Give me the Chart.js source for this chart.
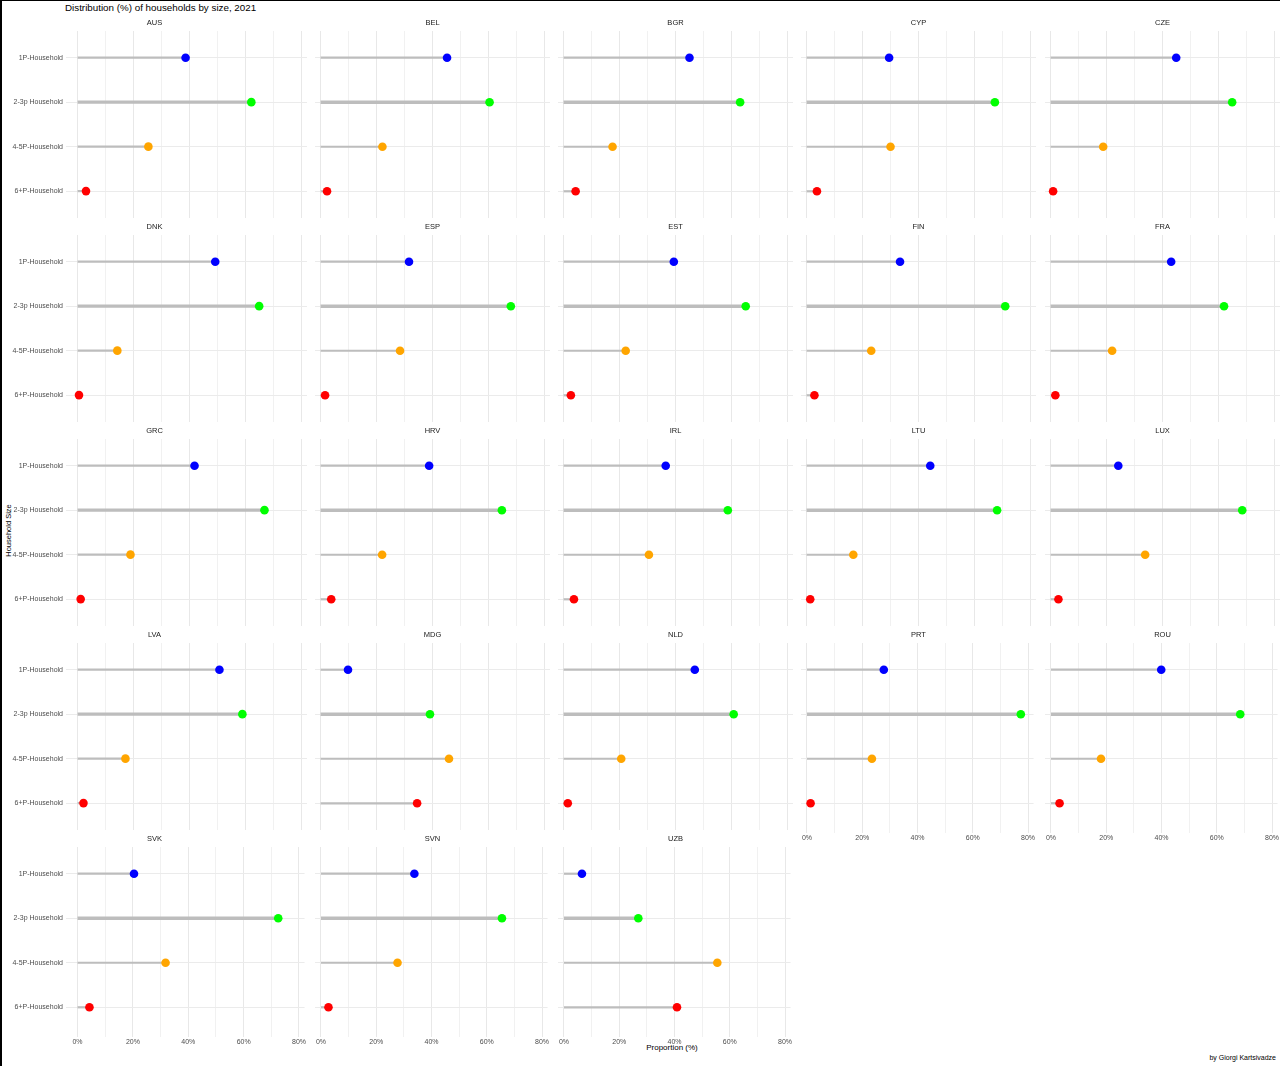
<!DOCTYPE html>
<html>
<head>
<meta charset="utf-8">
<script src="https://cdn.jsdelivr.net/npm/chart.js@4/dist/chart.umd.min.js"></script>
<style>
  html, body { margin: 0; padding: 0; background: #fff; }
  #wrap { position: relative; width: 1280px; height: 1066px; overflow: hidden; background: #fff;
          border-top: 1px solid #000; border-left: 2px solid #000; box-sizing: border-box; }
  .txt { position: absolute; font-family: "Liberation Sans", Arial, sans-serif; white-space: nowrap; }
  canvas { position: absolute; }
</style>
</head>
<body>
<div id="wrap">
  <div class="txt" style="left:63px;top:1px;font-size:9.8px;color:#000;">Distribution (%) of households by size, 2021</div>
  <div class="txt" style="left:-34px;top:525px;font-size:7.5px;color:#000;transform:rotate(-90deg);width:80px;text-align:center;">Household Size</div>
  <div class="txt" style="left:620px;top:1042px;font-size:8px;color:#000;width:100px;text-align:center;">Proportion (%)</div>
  <div class="txt" style="right:4px;top:1053px;font-size:7px;color:#000;">by Giorgi Kartsivadze</div>
</div>
<script>
// ---- data ----
const countries = ["AUS","BEL","BGR","CYP","CZE","DNK","ESP","EST","FIN","FRA",
                   "GRC","HRV","IRL","LTU","LUX","LVA","MDG","NLD","PRT","ROU",
                   "SVK","SVN","UZB"];
const categories = ["1P-Household","2-3p Household","4-5P-Household","6+P-Household"];
const onePerson  = [38.6,45.2,45.0,29.5,44.9, 49.2,31.6,39.4,33.4,43.1, 41.8,38.8,36.5,44.2,24.2, 50.7,9.8,46.9,27.8,39.9, 20.4,33.8,6.5];
const twoThree   = [62.1,60.4,63.1,67.3,64.9, 64.9,68.0,65.1,71.0,62.0, 66.8,64.8,58.7,68.1,68.5, 58.9,39.1,60.8,77.4,68.5, 72.5,65.5,26.9];
const fourFive   = [25.3,22.1,17.5,30.0,18.8, 14.2,28.4,22.2,23.1,22.0, 18.9,22.0,30.5,16.7,33.8, 17.1,45.9,20.6,23.5,18.1, 31.8,27.7,55.5];
const sixPlus    = [3.0,2.3,4.3,3.7,0.9, 0.5,1.6,2.6,2.8,1.7, 1.1,3.8,3.7,1.3,2.8, 2.1,34.5,1.5,1.3,3.1, 4.3,2.7,40.9];
const pointColors = ["#0000ff","#00ff00","#ffa500","#ff0000"];
const segmentWidths = [2.2, 3.4, 2.2, 2.2];
const xTickValues = [0,20,40,60,80];

// ---- layout ----
const FONT = "'Liberation Sans', Arial, sans-serif";
const PX_PER_PCT = 2.8, XMIN = -2, XMAX = 82;
const PANEL_W = (XMAX - XMIN) * PX_PER_PCT;
const PANEL_H = 186.5;
const TITLE_H = 17;
const COL0 = [76, 318.5, 561.7, 804.3, 1048.3];
const ROW_TOP = r => 30.4 + r * 204;
const N = countries.length;

countries.forEach((c, i) => {
  const col = i % 5, row = Math.floor(i / 5);
  const isLeft = col === 0;
  const isBottom = i + 5 >= N;
  const panelLeft = COL0[col] + XMIN * PX_PER_PCT;
  const yW = isLeft ? Math.round(panelLeft) : 0;
  const xH = isBottom ? 16 : 7;
  const left = isLeft ? 0 : panelLeft;
  const top = ROW_TOP(row) - TITLE_H;
  const width = Math.round(yW + PANEL_W);
  const height = Math.round(TITLE_H + PANEL_H + xH);

  const cv = document.createElement('canvas');
  cv.width = width; cv.height = height;
  cv.style.left = left + 'px'; cv.style.top = top + 'px';
  cv.style.width = width + 'px'; cv.style.height = height + 'px';
  document.getElementById('wrap').appendChild(cv);

  const vals = [onePerson[i], twoThree[i], fourFive[i], sixPlus[i]];
  const segments = vals.map((v, k) => ({
    type: 'scatter', showLine: true, data: [{ x: 0, y: k }, { x: v, y: k }],
    borderColor: '#bdbdbd', borderWidth: segmentWidths[k], pointRadius: 0, order: 2, clip: false
  }));
  const dots = {
    type: 'scatter', data: vals.map((v, k) => ({ x: v, y: k })), showLine: false,
    pointRadius: 4.3, pointBorderWidth: 0, pointHoverRadius: 4.3, clip: false,
    pointBackgroundColor: pointColors, pointBorderColor: pointColors, order: 1
  };

  new Chart(cv.getContext('2d'), {
    type: 'scatter',
    data: { datasets: [...segments, dots] },
    options: {
      responsive: false, animation: false, devicePixelRatio: 1,
      layout: { padding: 0, autoPadding: false },
      plugins: {
        legend: { display: false }, tooltip: { enabled: false },
        title: { display: true, text: c, color: '#1a1a1a',
                 font: { size: 7.5, family: FONT, weight: 'normal' }, padding: { top: 4, bottom: 4 } }
      },
      scales: {
        x: {
          type: 'linear', min: XMIN, max: XMAX, position: 'bottom', offset: false,
          afterBuildTicks: s => { s.ticks = [0,10,20,30,40,50,60,70,80].map(v => ({ value: v })); },
          afterFit: s => { s.height = xH; },
          border: { display: false },
          grid: { offset: false,
                  color: ctx => (xTickValues.includes(ctx.tick && ctx.tick.value) ? '#e8e8e8' : '#f1f1f1'),
                  lineWidth: 1, drawTicks: isBottom, tickLength: 3 },
          ticks: { display: isBottom, padding: 1, maxRotation: 0, autoSkip: false,
                   color: '#4d4d4d', font: { size: 7, family: FONT },
                   callback: v => (xTickValues.includes(v) ? v + '%' : '') }
        },
        y: {
          type: 'linear', min: -0.6, max: 3.6, reverse: true, offset: false,
          afterBuildTicks: s => { s.ticks = [0,1,2,3].map(v => ({ value: v })); },
          afterFit: s => { s.width = yW; },
          border: { display: false },
          grid: { offset: false, color: '#ebebeb', lineWidth: 1, drawTicks: isLeft, tickLength: 6 },
          ticks: { display: isLeft, padding: 3, color: '#4d4d4d', font: { size: 7, family: FONT },
                   callback: v => categories[v] }
        }
      }
    }
  });
});
</script>
</body>
</html>
